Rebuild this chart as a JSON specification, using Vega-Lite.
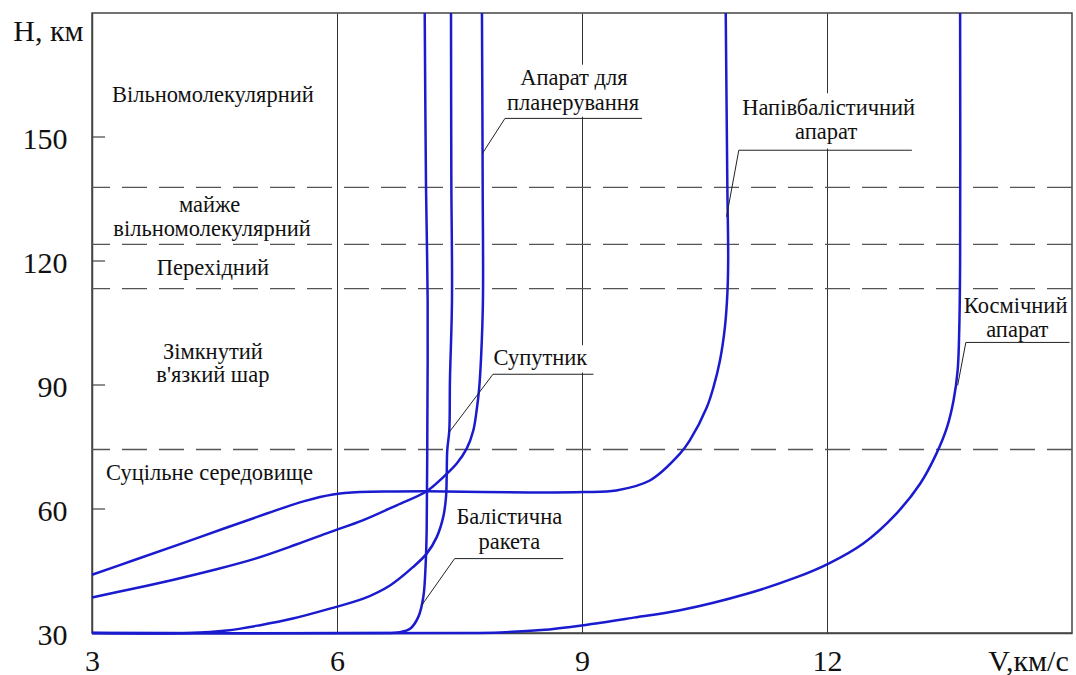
{
  "$schema": "https://vega.github.io/schema/vega-lite/v6.json",
  "autosize": "none",
  "width": 980,
  "height": 620,
  "padding": {"left": 92, "top": 13, "right": 4, "bottom": 42},
  "background": "white",
  "config": {
    "view": {"stroke": "#444", "strokeWidth": 1.5}
  },
  "datasets": {
    "curves": [
      {"s": "БР", "i": 1, "V": 3, "H": 30},
      {"s": "БР", "i": 2, "V": 6.5, "H": 30},
      {"s": "БР", "i": 3, "V": 6.77, "H": 30.2},
      {"s": "БР", "i": 4, "V": 6.894, "H": 31.0},
      {"s": "БР", "i": 5, "V": 6.996, "H": 33.9},
      {"s": "БР", "i": 6, "V": 7.057, "H": 38.7},
      {"s": "БР", "i": 7, "V": 7.086, "H": 46.8},
      {"s": "БР", "i": 8, "V": 7.098, "H": 54.8},
      {"s": "БР", "i": 9, "V": 7.106, "H": 79},
      {"s": "БР", "i": 10, "V": 7.11, "H": 110.5},
      {"s": "БР", "i": 11, "V": 7.09, "H": 137.8},
      {"s": "БР", "i": 12, "V": 7.074, "H": 180},

      {"s": "С", "i": 1, "V": 3, "H": 30},
      {"s": "С", "i": 2, "V": 4.2, "H": 30},
      {"s": "С", "i": 3, "V": 4.65, "H": 30.6},
      {"s": "С", "i": 4, "V": 5.06, "H": 31.9},
      {"s": "С", "i": 5, "V": 5.46, "H": 33.5},
      {"s": "С", "i": 6, "V": 5.914, "H": 35.9},
      {"s": "С", "i": 7, "V": 6.322, "H": 38.3},
      {"s": "С", "i": 8, "V": 6.649, "H": 41.5},
      {"s": "С", "i": 9, "V": 6.934, "H": 46.0},
      {"s": "С", "i": 10, "V": 7.098, "H": 49.2},
      {"s": "С", "i": 11, "V": 7.221, "H": 53.2},
      {"s": "С", "i": 12, "V": 7.301, "H": 58.1},
      {"s": "С", "i": 13, "V": 7.335, "H": 62.9},
      {"s": "С", "i": 14, "V": 7.343, "H": 67.7},
      {"s": "С", "i": 15, "V": 7.35, "H": 74.2},
      {"s": "С", "i": 16, "V": 7.375, "H": 79},
      {"s": "С", "i": 17, "V": 7.383, "H": 91.1},
      {"s": "С", "i": 18, "V": 7.408, "H": 110.5},
      {"s": "С", "i": 19, "V": 7.4, "H": 140},
      {"s": "С", "i": 20, "V": 7.396, "H": 180},

      {"s": "Г", "i": 1, "V": 3, "H": 38.6},
      {"s": "Г", "i": 2, "V": 3.5, "H": 40.7},
      {"s": "Г", "i": 3, "V": 4.0, "H": 42.9},
      {"s": "Г", "i": 4, "V": 4.5, "H": 45.3},
      {"s": "Г", "i": 5, "V": 5.0, "H": 48.0},
      {"s": "Г", "i": 6, "V": 5.5, "H": 51.4},
      {"s": "Г", "i": 7, "V": 5.914, "H": 54.4},
      {"s": "Г", "i": 8, "V": 6.322, "H": 57.3},
      {"s": "Г", "i": 9, "V": 6.731, "H": 60.9},
      {"s": "Г", "i": 10, "V": 7.098, "H": 64.3},
      {"s": "Г", "i": 11, "V": 7.301, "H": 67.7},
      {"s": "Г", "i": 12, "V": 7.466, "H": 71.0},
      {"s": "Г", "i": 13, "V": 7.588, "H": 74.6},
      {"s": "Г", "i": 14, "V": 7.669, "H": 79.0},
      {"s": "Г", "i": 15, "V": 7.71, "H": 83.9},
      {"s": "Г", "i": 16, "V": 7.74, "H": 89},
      {"s": "Г", "i": 17, "V": 7.765, "H": 97},
      {"s": "Г", "i": 18, "V": 7.787, "H": 110.5},
      {"s": "Г", "i": 19, "V": 7.784, "H": 137.8},
      {"s": "Г", "i": 20, "V": 7.775, "H": 180},

      {"s": "Н", "i": 1, "V": 3, "H": 44.1},
      {"s": "Н", "i": 2, "V": 3.51, "H": 47.6},
      {"s": "Н", "i": 3, "V": 4.32, "H": 53.2},
      {"s": "Н", "i": 4, "V": 5.14, "H": 58.9},
      {"s": "Н", "i": 5, "V": 5.6, "H": 61.9},
      {"s": "Н", "i": 6, "V": 5.95, "H": 63.5},
      {"s": "Н", "i": 7, "V": 6.28, "H": 64.1},
      {"s": "Н", "i": 8, "V": 6.7, "H": 64.25},
      {"s": "Н", "i": 9, "V": 7.1, "H": 64.3},
      {"s": "Н", "i": 10, "V": 8.36, "H": 64.0},
      {"s": "Н", "i": 11, "V": 9.02, "H": 64.1},
      {"s": "Н", "i": 12, "V": 9.42, "H": 64.5},
      {"s": "Н", "i": 13, "V": 9.83, "H": 66.9},
      {"s": "Н", "i": 14, "V": 10.2, "H": 73.4},
      {"s": "Н", "i": 15, "V": 10.32, "H": 76.6},
      {"s": "Н", "i": 16, "V": 10.53, "H": 84.7},
      {"s": "Н", "i": 17, "V": 10.61, "H": 89.5},
      {"s": "Н", "i": 18, "V": 10.69, "H": 96.0},
      {"s": "Н", "i": 19, "V": 10.75, "H": 104},
      {"s": "Н", "i": 20, "V": 10.78, "H": 112.1},
      {"s": "Н", "i": 21, "V": 10.79, "H": 120.2},
      {"s": "Н", "i": 22, "V": 10.78, "H": 137.8},
      {"s": "Н", "i": 23, "V": 10.76, "H": 180},

      {"s": "К", "i": 1, "V": 3, "H": 30},
      {"s": "К", "i": 2, "V": 7.6, "H": 30},
      {"s": "К", "i": 3, "V": 8.0, "H": 30.15},
      {"s": "К", "i": 4, "V": 8.5, "H": 30.7},
      {"s": "К", "i": 5, "V": 9.02, "H": 31.9},
      {"s": "К", "i": 6, "V": 9.6, "H": 33.6},
      {"s": "К", "i": 7, "V": 10.2, "H": 35.5},
      {"s": "К", "i": 8, "V": 11.02, "H": 39.5},
      {"s": "К", "i": 9, "V": 11.63, "H": 43.5},
      {"s": "К", "i": 10, "V": 12.02, "H": 46.8},
      {"s": "К", "i": 11, "V": 12.44, "H": 51.6},
      {"s": "К", "i": 12, "V": 12.85, "H": 58.9},
      {"s": "К", "i": 13, "V": 13.14, "H": 66.1},
      {"s": "К", "i": 14, "V": 13.34, "H": 73.4},
      {"s": "К", "i": 15, "V": 13.47, "H": 79.8},
      {"s": "К", "i": 16, "V": 13.55, "H": 86.3},
      {"s": "К", "i": 17, "V": 13.6, "H": 93.6},
      {"s": "К", "i": 18, "V": 13.62, "H": 104},
      {"s": "К", "i": 19, "V": 13.63, "H": 120.2},
      {"s": "К", "i": 20, "V": 13.63, "H": 180}
    ],
    "bounds": [{"H": 137.8}, {"H": 124}, {"H": 113.3}, {"H": 74.4}],
    "yticks": [
      {"V": 3, "V2": 3.16, "H": 60},
      {"V": 3, "V2": 3.16, "H": 90},
      {"V": 3, "V2": 3.16, "H": 120},
      {"V": 3, "V2": 3.16, "H": 150}
    ],
    "masks": [
      {"V": 8.05, "V2": 9.75, "H": 154.9, "H2": 167.5},
      {"V": 10.95, "V2": 13.05, "H": 147.2, "H2": 160.6},
      {"V": 7.95, "V2": 9.15, "H": 93.0, "H2": 99.6}
    ],
    "leaders": [
      {"V": 8.057, "H": 154.5, "V2": 9.735, "H2": 154.5},
      {"V": 8.057, "H": 154.5, "V2": 7.78, "H2": 146.0},
      {"V": 10.92, "H": 146.8, "V2": 13.04, "H2": 146.8},
      {"V": 10.92, "H": 146.8, "V2": 10.77, "H2": 130.7},
      {"V": 13.7, "H": 100.3, "V2": 14.97, "H2": 100.3},
      {"V": 13.7, "H": 100.3, "V2": 13.6, "H2": 89.9},
      {"V": 7.91, "H": 92.6, "V2": 9.14, "H2": 92.6},
      {"V": 7.91, "H": 92.6, "V2": 7.375, "H2": 78.6},
      {"V": 7.44, "H": 48.0, "V2": 8.77, "H2": 48.0},
      {"V": 7.44, "H": 48.0, "V2": 7.037, "H2": 36.7}
    ],
    "labels": [
      {"V": 4.48, "H": 158.5, "t": "Вільномолекулярний"},
      {"V": 4.44, "H": 131.9, "t": "майже"},
      {"V": 4.47, "H": 126.0, "t": "вільномолекулярний"},
      {"V": 4.48, "H": 116.7, "t": "Перехідний"},
      {"V": 4.48, "H": 96.4, "t": "Зімкнутий"},
      {"V": 4.48, "H": 90.7, "t": "в'язкий шар"},
      {"V": 4.44, "H": 66.9, "t": "Суцільне середовище"},
      {"V": 8.9, "H": 162.5, "t": "Апарат для"},
      {"V": 8.89, "H": 156.5, "t": "планерування"},
      {"V": 12.02, "H": 155.3, "t": "Напівбалістичний"},
      {"V": 11.99, "H": 149.6, "t": "апарат"},
      {"V": 14.31, "H": 107.3, "t": "Космічний"},
      {"V": 14.33, "H": 101.5, "t": "апарат"},
      {"V": 8.49, "H": 94.8, "t": "Супутник"},
      {"V": 8.11, "H": 56.3, "t": "Балістична"},
      {"V": 8.11, "H": 50.4, "t": "ракета"}
    ]
  },
  "encoding": {
    "x": {
      "field": "V", "type": "quantitative",
      "scale": {"domain": [3, 15], "nice": false, "zero": false},
      "axis": {
        "values": [3, 6, 9, 12],
        "grid": true, "gridColor": "#333", "gridWidth": 1,
        "ticks": false,
        "domainColor": "#444", "domainWidth": 1.5,
        "labelFont": "Liberation Serif", "labelFontSize": 30, "labelColor": "#111",
        "labelFlush": false, "labelOverlap": false,
        "labelBaseline": "alphabetic", "labelPadding": 37,
        "title": "V,км/с",
        "titleFont": "Liberation Serif", "titleFontSize": 30, "titleFontWeight": "normal", "titleColor": "#111",
        "titleX": 936, "titleY": 37, "titleAlign": "center", "titleBaseline": "alphabetic"
      }
    },
    "y": {
      "field": "H", "type": "quantitative",
      "scale": {"domain": [30, 180], "nice": false, "zero": false},
      "axis": {
        "values": [30, 60, 90, 120, 150],
        "grid": false,
        "ticks": false,
        "domainColor": "#444", "domainWidth": 1.5,
        "labelFont": "Liberation Serif", "labelFontSize": 30, "labelColor": "#111",
        "labelPadding": 25, "labelBaseline": "middle", "labelOffset": 2,
        "title": "H, км",
        "titleFont": "Liberation Serif", "titleFontSize": 30, "titleFontWeight": "normal", "titleColor": "#111",
        "titleAngle": 0, "titleX": -9, "titleY": 27, "titleAlign": "right", "titleBaseline": "alphabetic"
      }
    }
  },
  "layer": [
    {
      "data": {"name": "bounds"},
      "mark": {"type": "rule", "color": "#555", "strokeWidth": 1.3, "strokeDash": [25, 12]},
      "encoding": {"y": {"field": "H", "type": "quantitative"}, "x": null}
    },
    {
      "data": {"name": "yticks"},
      "mark": {"type": "rule", "color": "#444", "strokeWidth": 1.2},
      "encoding": {"x2": {"field": "V2"}}
    },
    {
      "data": {"name": "masks"},
      "mark": {"type": "rect", "color": "white"},
      "encoding": {
        "x2": {"field": "V2"},
        "y2": {"field": "H2"}
      }
    },
    {
      "data": {"name": "curves"},
      "mark": {"type": "line", "color": "#1a1acf", "strokeWidth": 2.5, "interpolate": "catmull-rom"},
      "encoding": {
        "detail": {"field": "s", "type": "nominal"},
        "order": {"field": "i", "type": "quantitative"}
      }
    },
    {
      "data": {"name": "leaders"},
      "mark": {"type": "rule", "color": "#222", "strokeWidth": 1},
      "encoding": {
        "x2": {"field": "V2"},
        "y2": {"field": "H2"}
      }
    },
    {
      "data": {"name": "labels"},
      "mark": {"type": "text", "font": "Liberation Serif", "fontSize": 22.5, "color": "#111", "align": "center", "baseline": "alphabetic"},
      "encoding": {"text": {"field": "t", "type": "nominal"}}
    }
  ]
}
